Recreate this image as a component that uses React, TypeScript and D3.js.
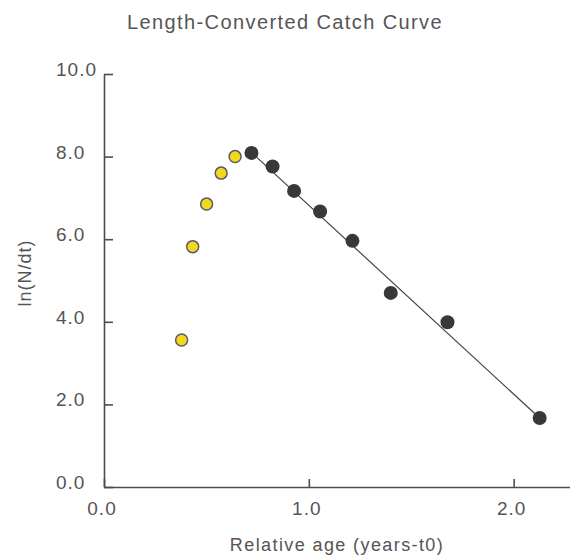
import React, { useEffect, useRef } from "react";
import * as d3 from "d3";

// points left out of the regression (ascending limb)
const excludedAge = [0.379, 0.433, 0.501, 0.572, 0.64];
const excludedLnN = [3.56, 5.82, 6.85, 7.6, 8.0];

// points used for the regression
const usedAge = [0.72, 0.823, 0.928, 1.055, 1.213, 1.4, 1.677, 2.127];
const usedLnN = [8.09, 7.76, 7.17, 6.67, 5.96, 4.7, 3.99, 1.67];

// fitted line ends
const fitAge = [0.72, 2.12];
const fitLnN = [8.1, 1.7];

const xTicks = [0, 1, 2];
const yTicks = [0, 2, 4, 6, 8, 10];

const W = 570;
const H = 558;
const FONT = "'Liberation Sans', Arial, sans-serif";
const TEXT = "#555";

export default function App() {
    const ref = useRef<SVGSVGElement>(null);

    useEffect(() => {
        if (!ref.current) return;
        const svg = d3.select(ref.current);
        svg.selectAll("*").remove();

        const x = d3.scaleLinear().domain([0, 2.28]).range([104, 571]);
        const y = d3.scaleLinear().domain([0, 10]).range([487, 74]);

        svg.append("rect").attr("width", W).attr("height", H).attr("fill", "#fff");

        svg.append("text")
            .attr("x", 285)
            .attr("y", 29)
            .attr("text-anchor", "middle")
            .attr("font-family", FONT)
            .attr("font-size", 20)
            .attr("letter-spacing", 1.4)
            .attr("fill", TEXT)
            .text("Length-Converted Catch Curve");

        const yAxis = svg.append("g")
            .attr("transform", `translate(${x(0)},0)`)
            .call(d3.axisRight(y).tickValues(yTicks).tickSize(9).tickSizeOuter(0).tickFormat(() => ""));
        const xAxis = svg.append("g")
            .attr("transform", `translate(0,${y(0)})`)
            .call(d3.axisTop(x).tickValues(xTicks).tickSize(8).tickSizeOuter(0).tickFormat(() => ""));
        [yAxis, xAxis].forEach(g => {
            g.selectAll("path, line").attr("stroke", "#4d4d4d").attr("stroke-width", 1.6);
        });

        svg.append("g")
            .selectAll("text")
            .data(yTicks)
            .join("text")
            .attr("x", 56)
            .attr("y", d => y(d) + 2)
            .attr("font-family", FONT)
            .attr("font-size", 19)
            .attr("letter-spacing", 1)
            .attr("fill", TEXT)
            .text(d => d.toFixed(1));

        svg.append("g")
            .selectAll("text")
            .data(xTicks)
            .join("text")
            .attr("x", d => x(d) - 2)
            .attr("y", 515)
            .attr("text-anchor", "middle")
            .attr("font-family", FONT)
            .attr("font-size", 19)
            .attr("letter-spacing", 1)
            .attr("fill", TEXT)
            .text(d => d.toFixed(1));

        svg.append("text")
            .attr("x", 337)
            .attr("y", 551)
            .attr("text-anchor", "middle")
            .attr("font-family", FONT)
            .attr("font-size", 18)
            .attr("letter-spacing", 1.4)
            .attr("fill", TEXT)
            .text("Relative age (years-t0)");

        svg.append("text")
            .attr("transform", `translate(31,273) rotate(-90)`)
            .attr("text-anchor", "middle")
            .attr("font-family", FONT)
            .attr("font-size", 18)
            .attr("letter-spacing", 1)
            .attr("fill", TEXT)
            .text("ln(N/dt)");

        const line = d3.line<number>()
            .x((_, i) => x(fitAge[i]))
            .y(d => y(d));
        svg.append("path")
            .datum(fitLnN)
            .attr("fill", "none")
            .attr("stroke", "#444")
            .attr("stroke-width", 1.2)
            .attr("d", line);

        svg.append("g")
            .selectAll("circle")
            .data(usedLnN)
            .join("circle")
            .attr("cx", (_, i) => x(usedAge[i]))
            .attr("cy", d => y(d))
            .attr("r", 7)
            .attr("fill", "#383838");

        svg.append("g")
            .selectAll("circle")
            .data(excludedLnN)
            .join("circle")
            .attr("cx", (_, i) => x(excludedAge[i]))
            .attr("cy", d => y(d))
            .attr("r", 6)
            .attr("fill", "#f3d820")
            .attr("stroke", "#5a5a6a")
            .attr("stroke-width", 1.5);
    }, []);

    return (
        <svg
            ref={ref}
            width={W}
            height={H}
            style={{ position: "fixed", left: 0, top: 0, display: "block" }}
        ></svg>
    );
}
